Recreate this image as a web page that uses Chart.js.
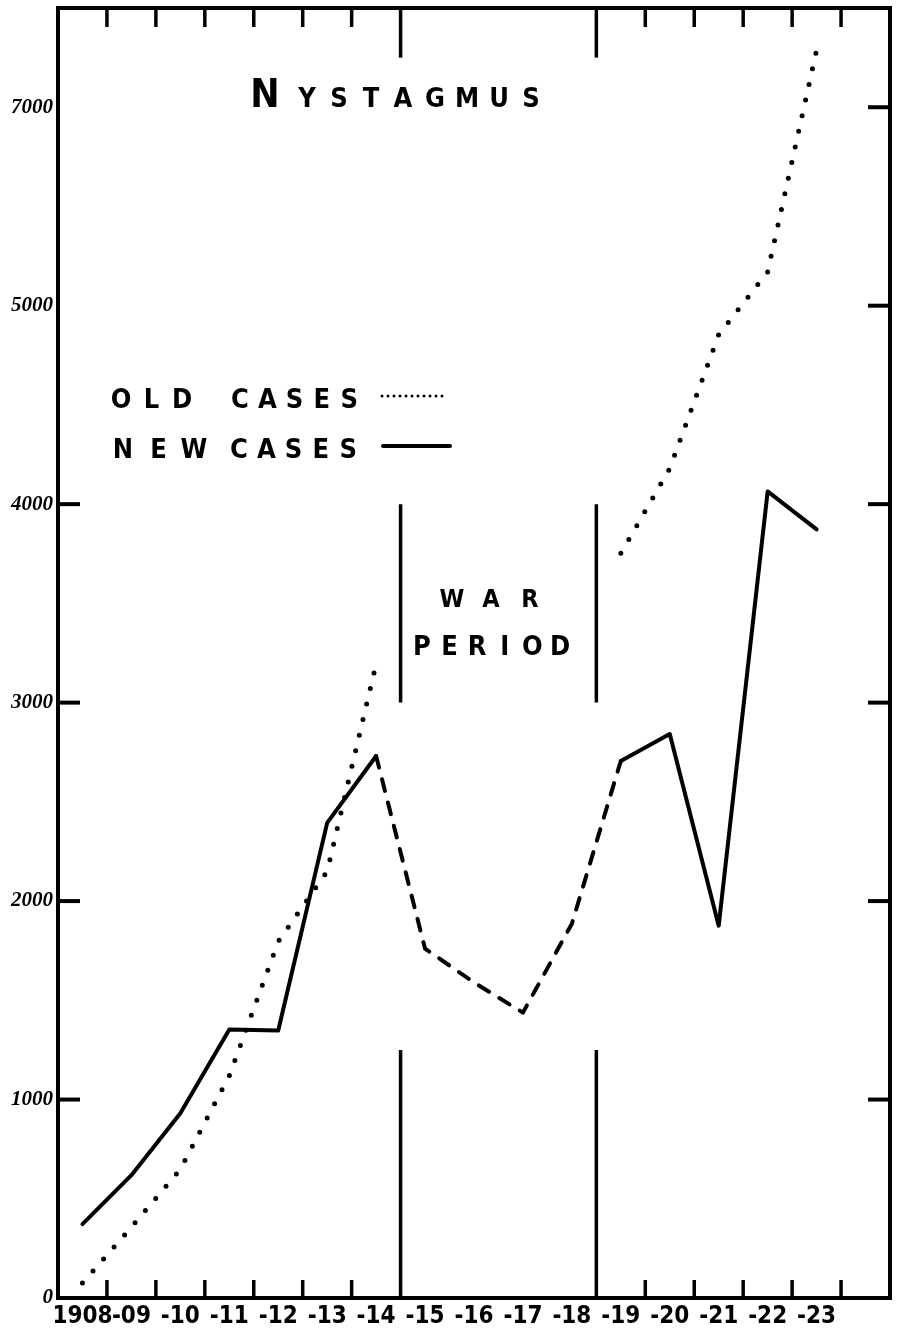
<!DOCTYPE html>
<html>
<head>
<meta charset="utf-8">
<title>Nystagmus</title>
<script src="https://cdn.jsdelivr.net/npm/chart.js@4"></script>
<style>
  html, body { margin: 0; padding: 0; background: #fff; }
  canvas { display: block; }
</style>
</head>
<body>
<canvas id="myChart" width="905" height="1336"></canvas>
<script>
// years along the bottom, the last slot is the empty space before the right edge
var years = ['1908','-09','-10','-11','-12','-13','-14','-15','-16','-17','-18','-19','-20','-21','-22','-23',''];

var newCases = [372,619,931,1353,1348,2394,2731,1760,1590,1438,1886,2706,2842,1876,4064,3873,null];
var oldCases = [75,357,649,1120,1796,2150,3195,null,null,null,null,3752,4180,4854,5170,6288,null];

// the drawing labels its top tick 7000 (one step is skipped), keep it as drawn
var yTickValues = [0,1000,2000,3000,4000,5000,6000];
var yTickLabels = ['0','1000','2000','3000','4000','5000','7000'];

var warYears = ['-15','-16','-17','-18'];
var warLineSpans = [[0,1250],[3000,4000],[6250,6500]];
var leftTicks = [1000,2000,3000,4000];
var rightTicks = [1000,2000,3000,4000,5000,6000];

var handFont = '"Liberation Sans Narrow", "DejaVu Sans Condensed", "DejaVu Sans", sans-serif';

var w0 = years.indexOf(warYears[0]);
var w1 = years.indexOf(warYears[warYears.length - 1]) + 1;

function line(ctx, x1, y1, x2, y2) {
    ctx.beginPath();
    ctx.moveTo(x1, y1);
    ctx.lineTo(x2, y2);
    ctx.stroke();
}

function spaced(ctx, text, x, y, step) {
    for (var i = 0; i < text.length; i++) ctx.fillText(text[i], x + i * step, y);
}

var sketch = {
    id: 'sketch',
    afterDraw: function(chart) {
        var ctx = chart.ctx, a = chart.chartArea;
        var x = chart.scales.x, y = chart.scales.y;
        ctx.save();
        ctx.strokeStyle = '#000';
        ctx.fillStyle = '#000';

        // frame
        ctx.lineWidth = 4;
        ctx.strokeRect(a.left, a.top, a.right - a.left, a.bottom - a.top);

        // year ticks top and bottom, war lines
        for (var k = 1; k < years.length; k++) {
            var bx = (x.getPixelForValue(k - 1) + x.getPixelForValue(k)) / 2;
            ctx.lineWidth = 3.5;
            if (k == w0 || k == w1) {
                warLineSpans.forEach(function(s) {
                    line(ctx, bx, y.getPixelForValue(s[0]), bx, y.getPixelForValue(s[1]));
                });
            } else if (k < w0 || k > w1) {
                line(ctx, bx, a.top, bx, a.top + 19);
                line(ctx, bx, a.bottom, bx, a.bottom - 18);
            }
        }

        // value ticks
        ctx.lineWidth = 4;
        leftTicks.forEach(function(v) {
            var py = y.getPixelForValue(v);
            line(ctx, a.left, py, a.left + 22, py);
        });
        rightTicks.forEach(function(v) {
            var py = y.getPixelForValue(v);
            line(ctx, a.right - 22, py, a.right, py);
        });

        // title
        ctx.textAlign = 'center';
        ctx.textBaseline = 'alphabetic';
        ctx.font = 'bold 39px ' + handFont;
        ctx.fillText('N', 265, 107);
        ctx.font = 'bold 27px ' + handFont;
        spaced(ctx, 'YSTAGMUS', 307, 107, 32);

        // legend
        ctx.font = 'bold 27px ' + handFont;
        spaced(ctx, 'OLD', 121, 408, 30.5);
        spaced(ctx, 'CASES', 240, 408, 27.3);
        spaced(ctx, 'NEW', 123, 458, 35.5);
        spaced(ctx, 'CASES', 239, 458, 27.3);

        ctx.lineCap = 'round';
        ctx.lineWidth = 3;
        ctx.setLineDash([0, 6]);
        line(ctx, 382, 396, 444, 396);
        ctx.setLineDash([]);
        ctx.lineWidth = 4;
        line(ctx, 383, 446, 450, 446);

        // war period
        ctx.font = 'bold 25px ' + handFont;
        spaced(ctx, 'WAR', 452, 607, 39);
        ctx.font = 'bold 27px ' + handFont;
        spaced(ctx, 'PERIOD', 422, 655, 27.6);

        ctx.restore();
    }
};

chart = new Chart('myChart', {
    type: 'line',
    data: {
        labels: years,
        datasets: [{
            label: 'NEW CASES',
            data: newCases,
            borderColor: '#000',
            borderWidth: 4,
            borderJoinStyle: 'round',
            borderCapStyle: 'round',
            pointRadius: 0,
            segment: {
                borderDash: function(c) {
                    return (c.p0DataIndex >= w0 - 1 && c.p1DataIndex <= w1) ? [12, 12] : undefined;
                }
            }
        }, {
            label: 'OLD CASES',
            data: oldCases,
            borderColor: '#000',
            borderWidth: 5,
            borderDash: [0, 16],
            borderCapStyle: 'round',
            pointRadius: 0
        }]
    },
    options: {
        responsive: false,
        animation: false,
        devicePixelRatio: 1,
        layout: { padding: { top: 8, right: 15, left: 0, bottom: 0 } },
        plugins: {
            legend: { display: false },
            tooltip: { enabled: false }
        },
        scales: {
            x: {
                offset: true,
                grid: { display: false, drawTicks: false },
                border: { display: false },
                ticks: {
                    color: '#000',
                    font: { family: handFont, size: 24, weight: 'bold' },
                    padding: 4,
                    maxRotation: 0,
                    autoSkip: false
                },
                afterFit: function(s) {
                    s.height = 38;
                    s.paddingLeft = 0;
                    s.paddingRight = 0;
                }
            },
            y: {
                min: 0,
                max: 6500,
                grid: { display: false, drawTicks: false },
                border: { display: false },
                afterBuildTicks: function(s) {
                    s.ticks = yTickValues.map(function(v) { return { value: v }; });
                },
                ticks: {
                    autoSkip: false,
                    color: '#000',
                    font: { family: '"Liberation Serif", serif', size: 21, weight: 'bold', style: 'italic' },
                    padding: 5,
                    callback: function(v, i) { return yTickLabels[i]; }
                },
                afterFit: function(s) {
                    s.width = 58;
                    s.paddingTop = 0;
                    s.paddingBottom = 0;
                }
            }
        }
    },
    plugins: [sketch]
});
</script>
</body>
</html>
